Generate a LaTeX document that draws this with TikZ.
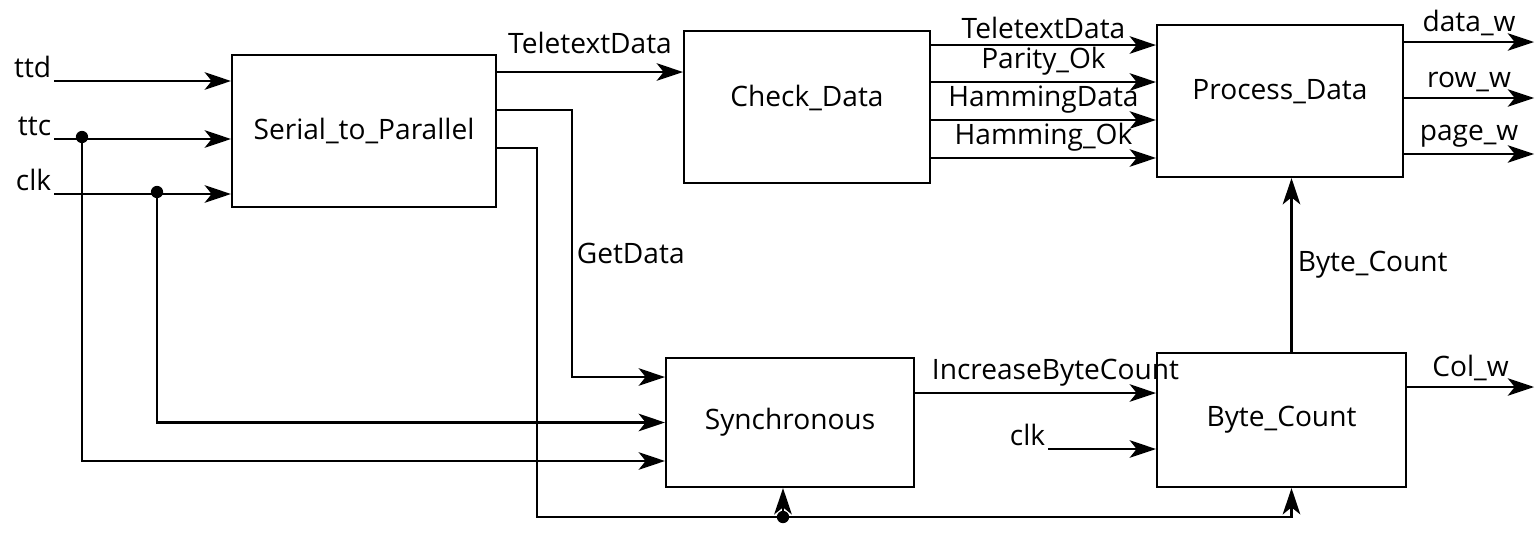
\documentclass[tikz,border=0pt]{standalone}
\usepackage{fontspec}
\setmainfont{Open Sans}
\usetikzlibrary{positioning, arrows.meta, calc}

\begin{document}
\begin{tikzpicture}[
    x=0.02cm, y=-0.02cm,
    font=\fontsize{16}{18}\selectfont,
    line width=1.2pt,
    blk/.style={rectangle, draw, line width=1.2pt, inner sep=0pt},
    sig/.style={-{Stealth[length=15pt, width=10pt, inset=4pt]}, line width=1.2pt},
    lbl/.style={inner sep=1pt},
    jdot/.style={circle, fill, inner sep=0pt, minimum size=7pt}
]
    \useasboundingbox (0,0) rectangle (1535,548);

    % blocks
    \node[blk, minimum width=5.28cm, minimum height=3.04cm] (s2p) at (364,131) {Serial\_to\_Parallel};
    \node[blk, minimum width=4.92cm, minimum height=3.04cm, text depth=0.46cm] (chk) at (807,107) {Check\_Data};
    \node[blk, minimum width=4.92cm, minimum height=3.04cm, text depth=0.46cm] (pd) at (1280,101) {Process\_Data};
    \node[blk, minimum width=4.96cm, minimum height=2.58cm] (sync) at (790,422.5) {Synchronous};
    \node[blk, minimum width=4.98cm, minimum height=2.68cm] (bc) at (1281.5,420) {Byte\_Count};

    % inputs
    \node[lbl, anchor=south east] (ttd) at (54,81) {ttd};
    \node[lbl, anchor=south east] (ttc) at (54,139) {ttc};
    \node[lbl, anchor=south east] (clk) at (54,194) {clk};
    \node[jdot] (ttcdot) at (82,137) {};
    \node[jdot] (clkdot) at (157,192) {};

    \draw[sig] (ttd.south east) -- (ttd.south east -| s2p.west);
    \draw[sig] (ttc.south east) -- (ttc.south east -| s2p.west);
    \draw[sig] (clk.south east) -- (clk.south east -| s2p.west);

    % into Synchronous
    \coordinate (syncin1) at ([yshift=0.91cm]sync.west);
    \coordinate (syncin2) at (sync.west);
    \coordinate (syncin3) at ([yshift=-0.77cm]sync.west);
    \draw[sig] (clkdot.center) |- (syncin2);
    \draw[sig] (ttcdot.center) |- (syncin3);

    % Serial_to_Parallel outputs
    \coordinate (tdout) at ([yshift=1.18cm]s2p.east);
    \coordinate (gdout) at ([yshift=0.42cm]s2p.east);
    \coordinate (rsout) at ([yshift=-0.34cm]s2p.east);
    \draw[sig] (tdout) -- (tdout -| chk.west) node[lbl, midway, above=9pt] {TeletextData};
    \draw[sig] (gdout) -- ++(75,0) |- (syncin1);
    \node[lbl, anchor=west] (getdata) at (574,253) {GetData};

    \node[jdot] (jn) at (783,517) {};
    \coordinate (bcdn) at ([xshift=0.2cm]bc.south);
    \draw (rsout) -- ++(40,0) |- (jn.center);
    \draw[sig] (jn.center) -| (bcdn);
    \draw[sig] (jn.center) -- (jn.center |- sync.south);

    % Check_Data to Process_Data
    \coordinate (c1) at ([yshift=1.24cm]chk.east);
    \coordinate (c2) at ([yshift=0.5cm]chk.east);
    \coordinate (c3) at ([yshift=-0.26cm]chk.east);
    \coordinate (c4) at ([yshift=-1.02cm]chk.east);
    \draw[sig] (c1) -- (c1 -| pd.west) node[lbl, midway, above=2pt] {TeletextData};
    \draw[sig] (c2) -- (c2 -| pd.west) node[lbl, midway, above=2pt] {Parity\_Ok};
    \draw[sig] (c3) -- (c3 -| pd.west) node[lbl, midway, above=2pt] {HammingData};
    \draw[sig] (c4) -- (c4 -| pd.west) node[lbl, midway, above=2pt] {Hamming\_Ok};

    % Process_Data outputs
    \draw[sig] ([yshift=1.18cm]pd.east) -- ++(130,0) node[lbl, midway, above=2pt] {data\_w};
    \draw[sig] ([yshift=0.06cm]pd.east) -- ++(130,0) node[lbl, midway, above=2pt] {row\_w};
    \draw[sig] ([yshift=-1.06cm]pd.east) -- ++(130,0) node[lbl, midway, above=2pt] {page\_w};

    % Byte_Count
    \coordinate (ibc) at ([yshift=0.54cm]bc.west);
    \draw[sig] (sync.east |- ibc) -- (ibc) node[lbl, midway, above=2pt, xshift=0.4cm] {IncreaseByteCount};
    \node[lbl, anchor=south east] (clkb) at (1048,449) {clk};
    \draw[sig] (clkb.south east) -- (clkb.south east -| bc.west);
    \draw[sig] ([yshift=0.66cm]bc.east) -- ++(127,0) node[lbl, midway, above=2pt] {Col\_w};

    \coordinate (bcup) at ([xshift=0.2cm]bc.north);
    \draw[sig] (bcup) -- (bcup |- pd.south) node[lbl, midway, right=2pt] {Byte\_Count};

\end{tikzpicture}
\end{document}
